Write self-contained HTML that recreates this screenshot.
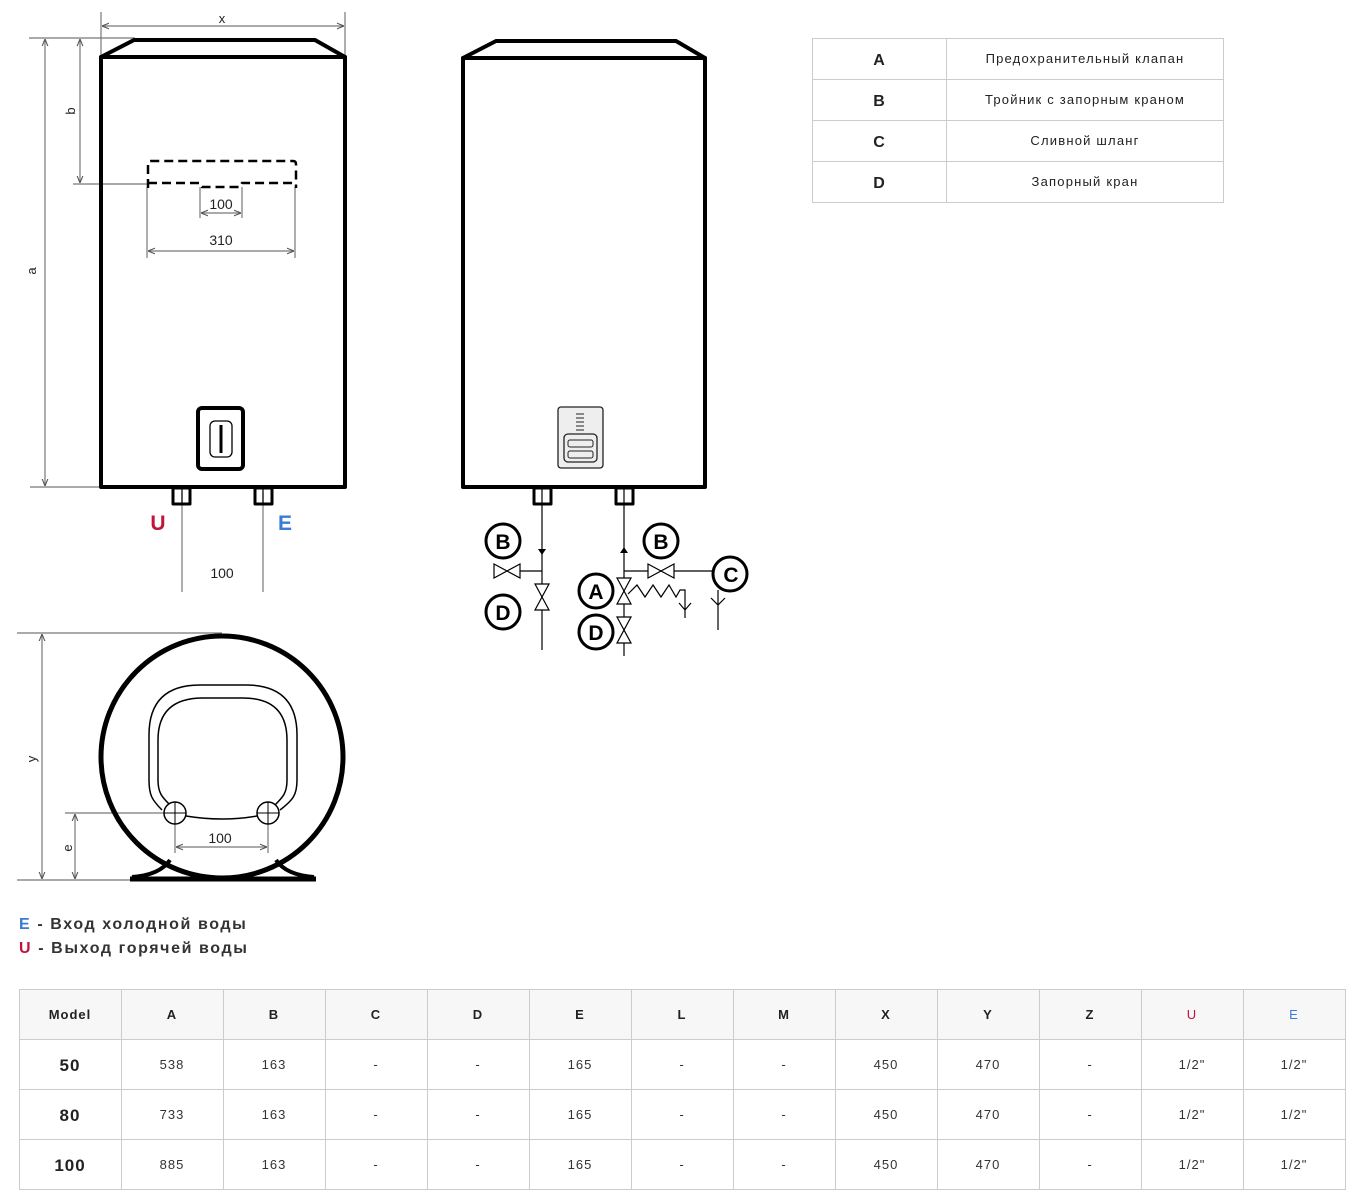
<!DOCTYPE html>
<html><head><meta charset="utf-8"><style>
body{margin:0;background:#fff;}
svg{display:block;font-family:"Liberation Sans",sans-serif;}
</style></head><body>
<svg width="1361" height="1201" viewBox="0 0 1361 1201" xmlns="http://www.w3.org/2000/svg">
<defs>
<marker id="ar" viewBox="0 0 10 10" refX="10" refY="5" markerWidth="6" markerHeight="6" orient="auto-start-reverse"><path d="M0,1 L10,5 L0,9" fill="none" stroke="#555" stroke-width="1.5"/></marker>
</defs>
<g fill="none" stroke="#777" stroke-width="1.2">
<!-- tank1 dims -->
<line x1="101" y1="12" x2="101" y2="57"/><line x1="345" y1="12" x2="345" y2="57"/>
<line x1="102" y1="26" x2="344" y2="26" marker-start="url(#ar)" marker-end="url(#ar)"/>
<line x1="29" y1="38" x2="135" y2="38"/>
<line x1="45" y1="39" x2="45" y2="486" marker-start="url(#ar)" marker-end="url(#ar)"/>
<line x1="30" y1="487" x2="101" y2="487"/>
<line x1="80" y1="39" x2="80" y2="183" marker-start="url(#ar)" marker-end="url(#ar)"/>
<line x1="73" y1="184" x2="148" y2="184"/>
<line x1="200" y1="187" x2="200" y2="218"/><line x1="242" y1="187" x2="242" y2="218"/>
<line x1="201" y1="213" x2="241" y2="213" marker-start="url(#ar)" marker-end="url(#ar)"/>
<line x1="147" y1="187" x2="147" y2="258"/><line x1="295" y1="187" x2="295" y2="258"/>
<line x1="148" y1="251" x2="294" y2="251" marker-start="url(#ar)" marker-end="url(#ar)"/>
<line x1="182" y1="492" x2="182" y2="592"/><line x1="263" y1="492" x2="263" y2="592"/>
<!-- circle view dims -->
<line x1="17" y1="633" x2="222" y2="633"/><line x1="17" y1="880" x2="130" y2="880"/>
<line x1="42" y1="634" x2="42" y2="879" marker-start="url(#ar)" marker-end="url(#ar)"/>
<line x1="65" y1="813" x2="175" y2="813"/>
<line x1="75" y1="814" x2="75" y2="879" marker-start="url(#ar)" marker-end="url(#ar)"/>
<line x1="175" y1="813" x2="175" y2="853"/><line x1="268" y1="813" x2="268" y2="853"/>
<line x1="176" y1="847" x2="267" y2="847" marker-start="url(#ar)" marker-end="url(#ar)"/>
</g>
<g font-size="13" fill="#222" text-anchor="middle">
<text x="222" y="23">x</text>
<text x="36" y="271" transform="rotate(-90 36 271)">a</text>
<text x="75" y="111" transform="rotate(-90 75 111)">b</text>
<text x="221" y="209" font-size="14">100</text>
<text x="221" y="245" font-size="14">310</text>
<text x="222" y="578" font-size="14">100</text>
<text x="36" y="759" transform="rotate(-90 36 759)">y</text>
<text x="72" y="848" transform="rotate(-90 72 848)">e</text>
<text x="220" y="843" font-size="14">100</text>
</g>
<!-- tank1 -->
<g fill="none" stroke="#000" stroke-width="4" stroke-linejoin="round">
<path d="M101,57 L134,40 L315,40 L345,57 Z"/>
<rect x="101" y="57" width="244" height="430"/>
<rect x="198" y="408" width="45" height="61" rx="4"/>
<rect x="173" y="488" width="17" height="16" stroke-width="3"/>
<rect x="255" y="488" width="17" height="16" stroke-width="3"/>
</g>
<line x1="182" y1="489" x2="182" y2="503" stroke="#000" stroke-width="1.2"/>
<line x1="263" y1="489" x2="263" y2="503" stroke="#000" stroke-width="1.2"/>
<rect x="210" y="421" width="22" height="36" rx="5" fill="none" stroke="#000" stroke-width="1.3"/>
<line x1="221" y1="425" x2="221" y2="453" stroke="#000" stroke-width="3"/>
<path d="M148,188 V164 Q148,161 151,161 H293 Q296,161 296,164 V188 M148,183 H200 L202,187 H240 L242,183 H295" fill="none" stroke="#000" stroke-width="2.5" stroke-dasharray="9,5"/>
<text x="158" y="530" font-size="21" font-weight="bold" fill="#c0143c" text-anchor="middle">U</text>
<text x="285" y="530" font-size="21" font-weight="bold" fill="#3a7bd5" text-anchor="middle">E</text>
<!-- tank2 -->
<g fill="none" stroke="#000" stroke-width="4" stroke-linejoin="round">
<path d="M463,58 L496,41 L676,41 L705,58 Z"/>
<rect x="463" y="58" width="242" height="429"/>
<rect x="534" y="488" width="17" height="16" stroke-width="3"/>
<rect x="616" y="488" width="17" height="16" stroke-width="3"/>
</g>
<rect x="558" y="407" width="45" height="61" rx="3" fill="#eee" stroke="#222" stroke-width="1.3"/>
<g stroke="#222" stroke-width="1"><line x1="576" y1="414" x2="584" y2="414"/><line x1="576" y1="418" x2="584" y2="418"/><line x1="576" y1="422" x2="584" y2="422"/><line x1="576" y1="426" x2="584" y2="426"/><line x1="576" y1="430" x2="584" y2="430"/></g>
<rect x="564" y="434" width="33" height="28" rx="4" fill="none" stroke="#222" stroke-width="1.3"/>
<rect x="568" y="440" width="25" height="7" rx="2" fill="none" stroke="#222" stroke-width="1"/>
<rect x="568" y="451" width="25" height="7" rx="2" fill="none" stroke="#222" stroke-width="1"/>
<g stroke="#000" stroke-width="1.2" fill="none">
<line x1="542" y1="489" x2="542" y2="650"/><line x1="624" y1="489" x2="624" y2="656"/>
<line x1="508" y1="571" x2="542" y2="571"/><line x1="624" y1="571" x2="713" y2="571"/>
<path d="M494,564 L520,578 L520,564 L494,578 Z" fill="#fff"/>
<path d="M648,564 L674,578 L674,564 L648,578 Z" fill="#fff"/>
<path d="M535,584 L549,610 L535,610 L549,584 Z" fill="#fff"/>
<path d="M617,578 L631,604 L617,604 L631,578 Z" fill="#fff"/>
<path d="M617,617 L631,643 L617,643 L631,617 Z" fill="#fff"/>
<path d="M628,594 L637,585 L645,597 L653,585 L661,597 L669,585 L676,597 L680,590 L685,590 V618"/>
<path d="M679,603 L685,610 L691,603"/>
<line x1="718" y1="590" x2="718" y2="630"/>
<path d="M711,598 L718,605 L725,598"/>
</g>
<path d="M538,549 L546,549 L542,555 Z" fill="#000"/>
<path d="M620,553 L628,553 L624,547 Z" fill="#000"/>
<g fill="#fff" stroke="#000" stroke-width="3">
<circle cx="503" cy="541" r="17"/><circle cx="503" cy="612" r="17"/>
<circle cx="661" cy="541" r="17"/><circle cx="730" cy="574" r="17"/>
<circle cx="596" cy="591" r="17"/><circle cx="596" cy="632" r="17"/>
</g>
<g font-size="21" font-weight="bold" text-anchor="middle" fill="#000">
<text x="503" y="549">B</text><text x="503" y="620">D</text>
<text x="661" y="549">B</text><text x="731" y="582">C</text>
<text x="596" y="599">A</text><text x="596" y="640">D</text>
</g>
<!-- circle view -->
<circle cx="222" cy="757" r="121" fill="none" stroke="#000" stroke-width="5"/>
<path d="M162,810 C152,800 149,795 149,780 V735 Q149,685 200,685 H246 Q297,685 297,735 V780 C297,795 293,800 280,810" fill="none" stroke="#000" stroke-width="1.5"/>
<path d="M170,805 C162,797 158,793 158,780 V740 Q158,698 203,698 H243 Q287,698 287,740 V780 C287,793 283,797 275,805" fill="none" stroke="#000" stroke-width="1.5"/>
<path d="M186,816 Q222,822 257,816" fill="none" stroke="#000" stroke-width="1.5"/>
<g fill="#fff" stroke="#000" stroke-width="1.5"><circle cx="175" cy="813" r="11"/><circle cx="268" cy="813" r="11"/></g>
<g stroke="#000" stroke-width="1"><line x1="175" y1="802" x2="175" y2="824"/><line x1="164" y1="813" x2="186" y2="813"/><line x1="268" y1="802" x2="268" y2="824"/><line x1="257" y1="813" x2="279" y2="813"/></g>
<path d="M130,879 H316" stroke="#000" stroke-width="5"/>
<path d="M132,877 Q160,875 170,860" fill="none" stroke="#000" stroke-width="4"/>
<path d="M314,877 Q286,875 276,860" fill="none" stroke="#000" stroke-width="4"/>
<g font-size="16" font-weight="bold" fill="#333" letter-spacing="1.6">
<text x="19" y="929"><tspan fill="#3a7bd5">E</tspan> - Вход холодной воды</text>
<text x="19" y="953"><tspan fill="#c0143c">U</tspan> - Выход горячей воды</text>
</g>
<!-- legend table -->
<g stroke="#ccc" stroke-width="1" fill="none">
<rect x="812.5" y="38.5" width="411" height="164"/>
<line x1="946.5" y1="38" x2="946.5" y2="203"/>
<line x1="812" y1="79.5" x2="1224" y2="79.5"/><line x1="812" y1="120.5" x2="1224" y2="120.5"/><line x1="812" y1="161.5" x2="1224" y2="161.5"/>
</g>
<g text-anchor="middle" fill="#222">
<g font-size="16" font-weight="bold"><text x="879" y="65">A</text><text x="879" y="106">B</text><text x="879" y="147">C</text><text x="879" y="188">D</text></g>
<g font-size="13" letter-spacing="1.2"><text x="1085" y="63">Предохранительный клапан</text><text x="1085" y="104">Тройник с запорным краном</text><text x="1085" y="145">Сливной шланг</text><text x="1085" y="186">Запорный кран</text></g>
</g>
<!-- data table -->
<rect x="19.5" y="989.5" width="1326" height="50" fill="#f7f7f7"/>
<g stroke="#ccc" stroke-width="1" fill="none">
<rect x="19.5" y="989.5" width="1326" height="200"/>
<line x1="19" y1="1039.5" x2="1346" y2="1039.5"/><line x1="19" y1="1089.5" x2="1346" y2="1089.5"/><line x1="19" y1="1139.5" x2="1346" y2="1139.5"/>
<line x1="121.5" y1="989" x2="121.5" y2="1190"/><line x1="223.5" y1="989" x2="223.5" y2="1190"/><line x1="325.5" y1="989" x2="325.5" y2="1190"/><line x1="427.5" y1="989" x2="427.5" y2="1190"/><line x1="529.5" y1="989" x2="529.5" y2="1190"/><line x1="631.5" y1="989" x2="631.5" y2="1190"/><line x1="733.5" y1="989" x2="733.5" y2="1190"/><line x1="835.5" y1="989" x2="835.5" y2="1190"/><line x1="937.5" y1="989" x2="937.5" y2="1190"/><line x1="1039.5" y1="989" x2="1039.5" y2="1190"/><line x1="1141.5" y1="989" x2="1141.5" y2="1190"/><line x1="1243.5" y1="989" x2="1243.5" y2="1190"/>
</g>
<g text-anchor="middle" fill="#222" font-size="13" font-weight="bold" letter-spacing="1">
<text x="70" y="1019">Model</text><text x="172" y="1019">A</text><text x="274" y="1019">B</text><text x="376" y="1019">C</text><text x="478" y="1019">D</text><text x="580" y="1019">E</text><text x="682" y="1019">L</text><text x="784" y="1019">M</text><text x="886" y="1019">X</text><text x="988" y="1019">Y</text><text x="1090" y="1019">Z</text><text x="1192" y="1019" fill="#c0143c" font-weight="normal">U</text><text x="1294" y="1019" fill="#3a7bd5" font-weight="normal">E</text>
</g>
<g text-anchor="middle" fill="#333" font-size="13" letter-spacing="1">
<text x="70" y="1071" font-size="17" font-weight="bold" fill="#222">50</text><text x="172" y="1069">538</text><text x="274" y="1069">163</text><text x="376" y="1069">-</text><text x="478" y="1069">-</text><text x="580" y="1069">165</text><text x="682" y="1069">-</text><text x="784" y="1069">-</text><text x="886" y="1069">450</text><text x="988" y="1069">470</text><text x="1090" y="1069">-</text><text x="1192" y="1069">1/2"</text><text x="1294" y="1069">1/2"</text>
<text x="70" y="1121" font-size="17" font-weight="bold" fill="#222">80</text><text x="172" y="1119">733</text><text x="274" y="1119">163</text><text x="376" y="1119">-</text><text x="478" y="1119">-</text><text x="580" y="1119">165</text><text x="682" y="1119">-</text><text x="784" y="1119">-</text><text x="886" y="1119">450</text><text x="988" y="1119">470</text><text x="1090" y="1119">-</text><text x="1192" y="1119">1/2"</text><text x="1294" y="1119">1/2"</text>
<text x="70" y="1171" font-size="17" font-weight="bold" fill="#222">100</text><text x="172" y="1169">885</text><text x="274" y="1169">163</text><text x="376" y="1169">-</text><text x="478" y="1169">-</text><text x="580" y="1169">165</text><text x="682" y="1169">-</text><text x="784" y="1169">-</text><text x="886" y="1169">450</text><text x="988" y="1169">470</text><text x="1090" y="1169">-</text><text x="1192" y="1169">1/2"</text><text x="1294" y="1169">1/2"</text>
</g>
</svg>
</body></html>
